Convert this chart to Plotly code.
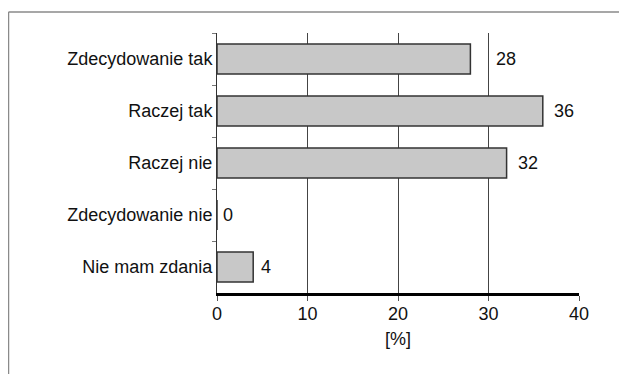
import plotly.graph_objects as go

categories = ["Zdecydowanie tak", "Raczej tak", "Raczej nie", "Zdecydowanie nie", "Nie mam zdania"]
values = [28, 36, 32, 0, 4]
x_ticks = [0, 10, 20, 30, 40]
x_title = "[%]"

OFF = 8  # default page body margin
W, H = 627 - OFF, 374 - OFF
L, R, T, B = 217 - OFF, 579 - OFF, 33 - OFF, 293 - OFF
pw, ph = R - L, B - T

FONT = "Liberation Sans, Arial, Helvetica, sans-serif"
FS = 18

fig = go.Figure()
fig.add_trace(go.Bar(
    y=categories, x=values, orientation="h",
    marker=dict(color="#c8c8c8", line=dict(color="#333333", width=1.5)),
    hoverinfo="skip",
))

label_shift = [24, 9, 9, 4, 6]
for c, v, s in zip(categories, values, label_shift):
    fig.add_annotation(x=v, y=c, text=str(v), showarrow=False, xanchor="left",
                       xshift=s, font=dict(family=FONT, size=FS, color="#111"))

def px(xp):
    return (xp - OFF - L) / pw

def py(yp):
    return (B - (yp - OFF)) / ph

frame = "#8a8a8a"
fig.add_shape(type="line", xref="paper", yref="paper", x0=px(8.5), x1=px(700), y0=py(12), y1=py(12),
              line=dict(color=frame, width=1.5), layer="above")
fig.add_shape(type="line", xref="paper", yref="paper", x0=px(8.5), x1=px(8.5), y0=py(12), y1=py(420),
              line=dict(color=frame, width=1.5), layer="above")

fig.update_layout(
    width=W, height=H,
    margin=dict(l=L, r=W - R, t=T, b=H - B, pad=0, autoexpand=False),
    paper_bgcolor="white", plot_bgcolor="white",
    showlegend=False, bargap=0.42,
    font=dict(family=FONT, size=FS, color="#111"),
    xaxis=dict(range=[0, 40], tickvals=x_ticks, ticktext=[str(t) for t in x_ticks],
               showgrid=True, gridcolor="#444444", gridwidth=1,
               showline=True, linecolor="#000000", linewidth=2.5,
               ticks="outside", ticklen=5, tickcolor="#555555", tickwidth=1,
               ticklabelstandoff=-2, automargin=False,
               zeroline=False, fixedrange=True,
               title=dict(text=x_title, standoff=10, font=dict(size=FS))),
    yaxis=dict(autorange="reversed", showgrid=False, zeroline=False, automargin=False,
               showline=True, linecolor="#333333", linewidth=1,
               ticks="outside", ticklen=4, tickcolor="#777777", tickson="boundaries",
               fixedrange=True),
)

fig.write_html("out.html", config={"displayModeBar": False})
